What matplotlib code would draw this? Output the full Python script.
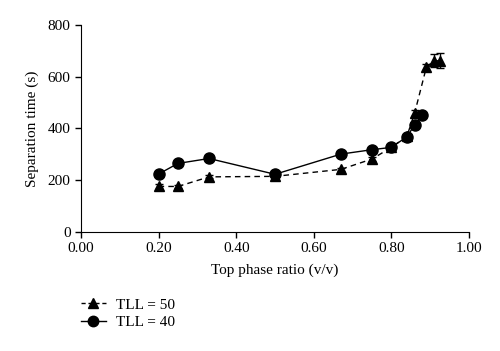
import matplotlib
matplotlib.use("Agg")
import matplotlib.pyplot as plt
from matplotlib.lines import Line2D

plt.rcParams["font.family"] = ["Liberation Serif", "DejaVu Serif"]

# TLL = 50 series
x50 = [0.20, 0.25, 0.33, 0.50, 0.67, 0.75, 0.80, 0.84, 0.86, 0.89, 0.91, 0.925]
y50 = [176, 176, 213, 215, 242, 282, 327, 370, 460, 636, 662, 661]
e50 = [8, 6, 6, 6, 6, 8, 6, 6, 13, 12, 25, 29]

# TLL = 40 series
x40 = [0.20, 0.25, 0.33, 0.50, 0.67, 0.75, 0.80, 0.84, 0.86, 0.88]
y40 = [224, 265, 284, 223, 301, 318, 327, 368, 414, 452]
e40 = [5, 5, 5, 5, 5, 5, 5, 5, 5, 5]

fig = plt.figure(figsize=(5.0, 3.51), dpi=100)
ax = fig.add_axes([0.162, 0.339, 0.776, 0.590])

ax.errorbar(x50, y50, yerr=e50, fmt="^--", color="black", ms=7.5, lw=1,
            capsize=3, elinewidth=1, dashes=(4, 3))
ax.errorbar(x40, y40, yerr=e40, fmt="o-", color="black", ms=8, lw=1,
            capsize=3, elinewidth=1)

ax.set_xlim(0, 1.0)
ax.set_ylim(0, 800)
ax.set_xticks([0, 0.2, 0.4, 0.6, 0.8, 1.0])
ax.set_xticklabels(["0.00", "0.20", "0.40", "0.60", "0.80", "1.00"])
ax.set_yticks([0, 200, 400, 600, 800])
ax.tick_params(labelsize=11, direction="out", length=4, width=1, colors="black")
ax.spines["top"].set_visible(False)
ax.spines["right"].set_visible(False)
ax.set_xlabel("Top phase ratio (v/v)", fontsize=11, labelpad=6)
ax.set_ylabel("Separation time (s)", fontsize=11, labelpad=6)

handles = [
    Line2D([], [], color="black", marker="^", ms=7, lw=1, ls="--", dashes=(3, 2)),
    Line2D([], [], color="black", marker="o", ms=7.5, lw=1, ls="-"),
]
fig.legend(handles, ["TLL = 50", "TLL = 40"], loc="upper left",
           bbox_to_anchor=(0.135, 0.19), frameon=False, fontsize=11,
           handlelength=1.6, handletextpad=0.7, labelspacing=0.25)

fig.savefig("out.png", dpi=100)
